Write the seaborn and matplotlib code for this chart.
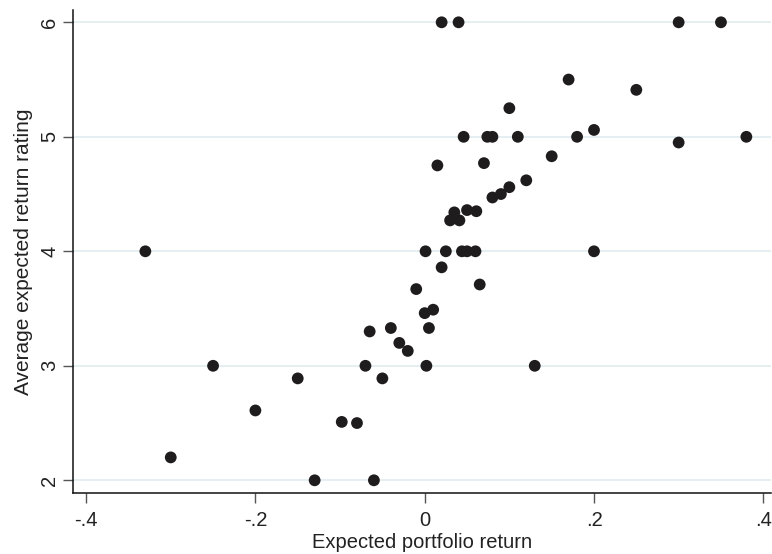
import matplotlib
matplotlib.use("Agg")
import matplotlib.pyplot as plt
import seaborn as sns
import pandas as pd

# expected portfolio return vs average expected return rating
exp_return = [
    0.020, 0.040, 0.300, 0.350,
    0.170, 0.250, 0.100,
    0.046, 0.074, 0.080, 0.110, 0.180, 0.200, 0.300, 0.380,
    0.015, 0.070, 0.150, 0.120, 0.100, 0.090, 0.080,
    0.035, 0.030, 0.041, 0.050, 0.061,
    -0.330, 0.001, 0.025, 0.044, 0.050, 0.060, 0.200,
    0.020, -0.010, 0.065, 0.000, 0.010,
    -0.065, -0.040, 0.005, -0.030, -0.020,
    -0.250, -0.070, 0.002, 0.130,
    -0.150, -0.050, -0.200, -0.098, -0.080,
    -0.300, -0.130, -0.060,
]
avg_rating = [
    6.00, 6.00, 6.00, 6.00,
    5.50, 5.41, 5.25,
    5.00, 5.00, 5.00, 5.00, 5.00, 5.06, 4.95, 5.00,
    4.75, 4.77, 4.83, 4.62, 4.56, 4.50, 4.47,
    4.34, 4.27, 4.27, 4.36, 4.35,
    4.00, 4.00, 4.00, 4.00, 4.00, 4.00, 4.00,
    3.86, 3.67, 3.71, 3.46, 3.49,
    3.30, 3.33, 3.33, 3.20, 3.13,
    3.00, 3.00, 3.00, 3.00,
    2.89, 2.89, 2.61, 2.51, 2.50,
    2.20, 2.00, 2.00,
]

x_ticks = [-0.4, -0.2, 0.0, 0.2, 0.4]
x_tick_labels = ["-.4", "-.2", "0", ".2", ".4"]
y_ticks = [2, 3, 4, 5, 6]
y_tick_labels = ["2", "3", "4", "5", "6"]

df = pd.DataFrame({"Expected portfolio return": exp_return,
                   "Average expected return rating": avg_rating})

sns.set_style("white")
plt.rcParams["font.family"] = ["Liberation Sans", "DejaVu Sans"]

W, H = 772, 554
fig = plt.figure(figsize=(W / 100, H / 100), dpi=100)
ax = fig.add_axes([73.3 / W, (H - 492.7) / H, (771 - 73.3) / W, (492.7 - 10) / H])

# light bluish horizontal grid at the y ticks only
for yv in y_ticks:
    ax.axhline(yv, color="#e3eef1", linewidth=1.3, zorder=0)

sns.scatterplot(data=df, x="Expected portfolio return", y="Average expected return rating",
                ax=ax, color="#1f1c1d", s=72, edgecolor="none", linewidth=0, zorder=3)

ax.set_xlim((73.3 - 424.7) / 846.5, (771 - 424.7) / 846.5)
ax.set_ylim(2 - (492.7 - 480.3) / 114.5, 6 + (22.3 - 10) / 114.5)

ax.set_xticks(x_ticks)
ax.set_xticklabels(x_tick_labels, fontsize=14.5, color="#222222")
ax.set_yticks(y_ticks)
ax.set_yticklabels(y_tick_labels, fontsize=14.5, color="#222222", rotation=90, va="center")

ax.tick_params(axis="both", bottom=True, left=True, direction="out",
               length=7, width=1, color="#555555")
ax.tick_params(axis="x", pad=6)
ax.tick_params(axis="y", pad=3)

for side in ["top", "right"]:
    ax.spines[side].set_visible(False)
for side in ["left", "bottom"]:
    ax.spines[side].set_color("#111111")
    ax.spines[side].set_linewidth(1.1)

ax.set_xlabel("Expected portfolio return", fontsize=14.5, color="#222222", labelpad=2)
ax.set_ylabel("Average expected return rating", fontsize=15, color="#222222", labelpad=5)

fig.savefig("out.png", dpi=100)
